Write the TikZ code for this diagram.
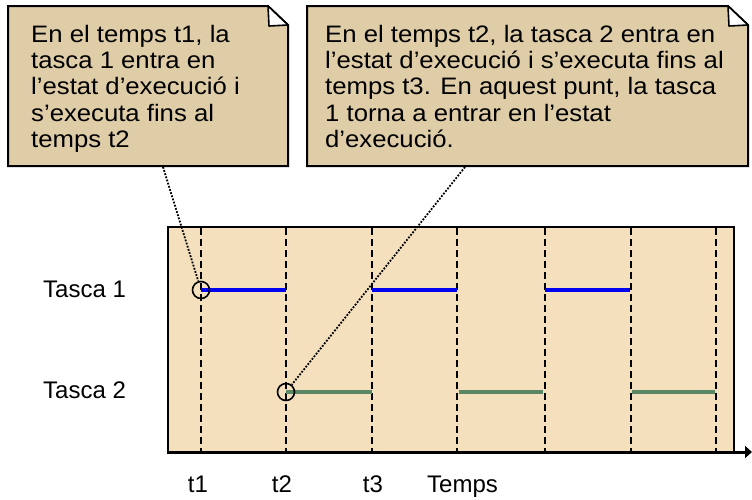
\documentclass[tikz,border=0pt]{standalone}
\usepackage{fontspec}
\setmainfont{Liberation Sans}
\newfontfamily\callfont[FakeStretch=1.08]{Liberation Sans}
\usetikzlibrary{arrows.meta}
\definecolor{calloutfill}{RGB}{223,205,168}
\definecolor{panelfill}{RGB}{245,224,190}
\definecolor{taskone}{RGB}{0,0,240}
\definecolor{tasktwo}{RGB}{90,135,100}
\tikzset{
  callout/.style={fill=calloutfill, draw=black, line width=2pt, line join=miter},
  foldmark/.style={fill=white, draw=black, line width=1.6pt, line join=round},
  calltext/.style={anchor=north west, inner sep=0pt, align=left, font=\callfont\fontsize{23.8}{26.4}\selectfont},
  lbl/.style={inner sep=0pt, font=\fontsize{24}{28}\selectfont},
  tick/.style={dash pattern=on 6.5pt off 4.5pt, line width=2pt},
  runone/.style={taskone, line width=3.4pt},
  runtwo/.style={tasktwo, line width=3.4pt},
  marker/.style={circle, draw=black, line width=1.6pt, minimum size=17pt, inner sep=0pt},
  pointer/.style={dash pattern=on 1.8pt off 1.5pt, line width=1.8pt}
}
\begin{document}
\begin{tikzpicture}[x=1pt,y=-1pt]
\useasboundingbox (0,0) rectangle (752,499);
% panel
\fill[panelfill] (168,227) rectangle (734,452);
\draw[line width=2pt] (168,452) -- (168,227) -- (734,227) -- (734,452);
% time ticks
\foreach \x in {201,286,372,457,545,631,716}
  \draw[tick] (\x,228) -- (\x,451);
% axis
\coordinate (axs) at (167,452);
\coordinate (axe) at (752,452);
\draw[line width=3pt, -{Triangle[length=7pt,width=12pt]}] (axs) -- (axe);
% task runs
\draw[runone] (201,290) -- (286,290);
\draw[runone] (372,290) -- (457,290);
\draw[runone] (545,290) -- (630,290);
\draw[runtwo] (286,392) -- (372,392);
\draw[runtwo] (459,392) -- (543,392);
\draw[runtwo] (632,392) -- (715,392);
% markers
\node[marker] (circ1) at (201,290) {};
\node[marker] (circ2) at (286,392) {};
% callout 1
\draw[callout] (8,6) -- (268,6) -- (288,25) -- (288,166) -- (8,166) -- cycle;
\draw[foldmark] (268,6) -- (269,26) -- (288,25) -- cycle;
\node[calltext] (note1) at (31,24.6) {En el temps t1, la\\tasca 1 entra en\\l’estat d’execució i\\s’executa fins al\\temps t2};
% callout 2
\draw[callout] (307,6) -- (728,6) -- (748,25) -- (748,166) -- (307,166) -- cycle;
\draw[foldmark] (728,6) -- (729,26) -- (748,25) -- cycle;
\node[calltext] (note2) at (325,24.6) {En el temps t2, la tasca 2 entra en\\l’estat d’execució i s’executa fins al\\temps t3. En aquest punt, la tasca\\1 torna a entrar en l’estat\\d’execució.};
% pointers
\coordinate (tail1) at (163,167);
\coordinate (tail2) at (465,167);
\draw[pointer] (tail1) -- (circ1);
\draw[pointer] (tail2) -- (circ2);
% labels
\node[lbl, anchor=base west] (lt1) at (43,297) {Tasca 1};
\node[lbl, anchor=base west] (lt2) at (43,398) {Tasca 2};
\node[lbl, anchor=base] (lbt1) at (198,492) {t1};
\node[lbl, anchor=base] (lbt2) at (282,492) {t2};
\node[lbl, anchor=base] (lbt3) at (373,492) {t3};
\node[lbl, anchor=base west] (lbtemps) at (427,492) {Temps};
\end{tikzpicture}
\end{document}
